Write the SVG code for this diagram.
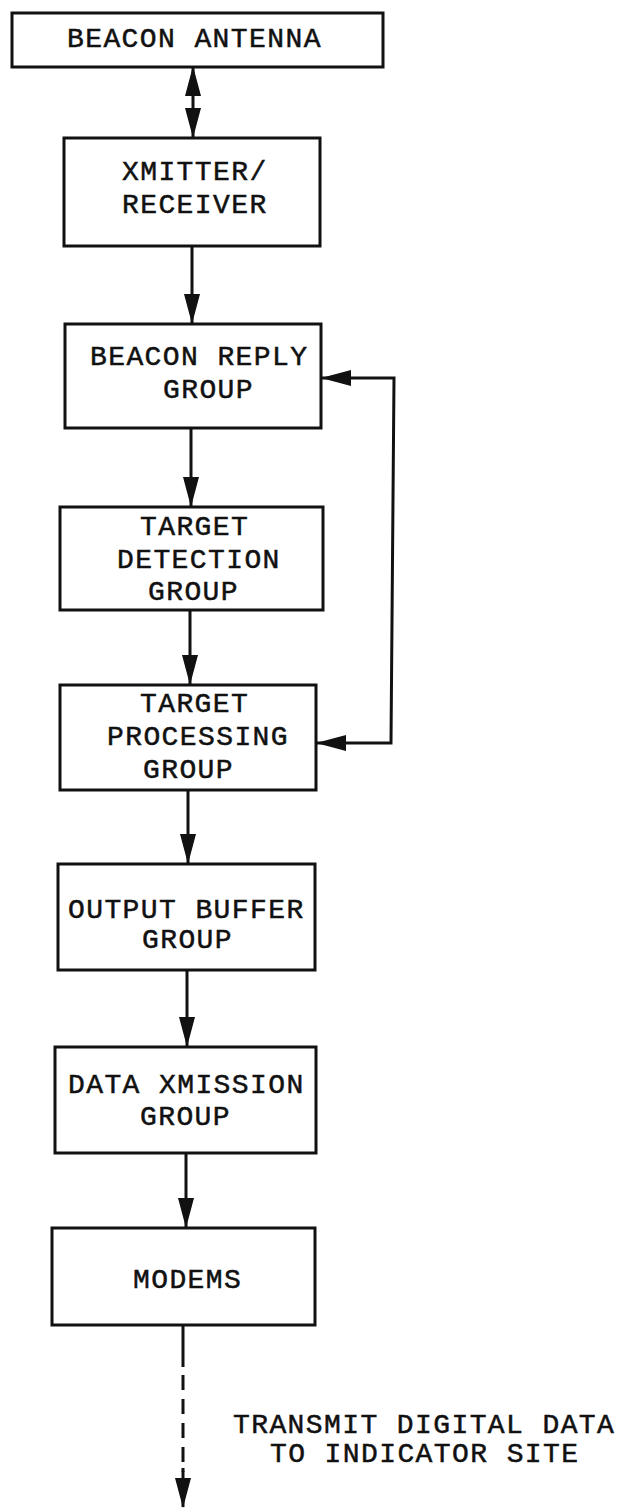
<svg xmlns="http://www.w3.org/2000/svg" width="623" height="1509" viewBox="0 0 623 1509">
<style>
.box{fill:#fff;stroke:#111;stroke-width:3}
.t{font-family:"Liberation Mono","DejaVu Sans Mono",monospace;font-size:28px;letter-spacing:1.4px;fill:#111;stroke:#111;stroke-width:0.5}
.c{fill:none;stroke:#111;stroke-width:3}
.d{fill:none;stroke:#111;stroke-width:3;stroke-dasharray:15 9}
</style>
<defs>
<marker id="ah" viewBox="0 0 30 16" refX="29" refY="8" markerWidth="30" markerHeight="16" markerUnits="userSpaceOnUse" orient="auto-start-reverse">
<path d="M0,0 L30,8 L0,16 z" fill="#111"/>
</marker>
</defs>
<rect width="623" height="1509" fill="#fff"/>
<g id="connectors">
<line class="c" x1="193" y1="67" x2="193" y2="137" marker-start="url(#ah)" marker-end="url(#ah)"/>
<line class="c" x1="192" y1="246" x2="192" y2="323" marker-end="url(#ah)"/>
<line class="c" x1="191" y1="428" x2="191" y2="506" marker-end="url(#ah)"/>
<line class="c" x1="190" y1="610" x2="190" y2="684" marker-end="url(#ah)"/>
<line class="c" x1="188" y1="790" x2="188" y2="863" marker-end="url(#ah)"/>
<line class="c" x1="187" y1="970" x2="187" y2="1046" marker-end="url(#ah)"/>
<line class="c" x1="186" y1="1153" x2="186" y2="1227" marker-end="url(#ah)"/>
<polyline class="c" points="322,378 394,378 391,743 317,743" marker-start="url(#ah)" marker-end="url(#ah)"/>
<line class="c" x1="183" y1="1325" x2="183" y2="1367"/>
<line class="d" x1="183" y1="1375" x2="183" y2="1472"/>
<line class="c" x1="183" y1="1468" x2="183" y2="1507" marker-end="url(#ah)"/>
</g>
<g id="beacon-antenna">
<rect class="box" x="12" y="13" width="371" height="54"/>
<text class="t" x="67" y="47">BEACON ANTENNA</text>
</g>
<g id="xmitter-receiver">
<rect class="box" x="64" y="138" width="256" height="108"/>
<text class="t" x="122" y="180">XMITTER/</text>
<text class="t" x="122" y="213">RECEIVER</text>
</g>
<g id="beacon-reply-group">
<rect class="box" x="65" y="324" width="256" height="104"/>
<text class="t" x="90" y="365">BEACON REPLY</text>
<text class="t" x="163" y="398">GROUP</text>
</g>
<g id="target-detection-group">
<rect class="box" x="60" y="507" width="263" height="103"/>
<text class="t" x="140" y="535">TARGET</text>
<text class="t" x="117" y="568">DETECTION</text>
<text class="t" x="148" y="600">GROUP</text>
</g>
<g id="target-processing-group">
<rect class="box" x="60" y="685" width="256" height="105"/>
<text class="t" x="140" y="712">TARGET</text>
<text class="t" x="107" y="745">PROCESSING</text>
<text class="t" x="143" y="778">GROUP</text>
</g>
<g id="output-buffer-group">
<rect class="box" x="58" y="864" width="257" height="106"/>
<text class="t" x="68" y="918">OUTPUT BUFFER</text>
<text class="t" x="142" y="948">GROUP</text>
</g>
<g id="data-xmission-group">
<rect class="box" x="55" y="1047" width="261" height="106"/>
<text class="t" x="68" y="1093">DATA XMISSION</text>
<text class="t" x="140" y="1125">GROUP</text>
</g>
<g id="modems">
<rect class="box" x="52" y="1228" width="263" height="97"/>
<text class="t" x="133" y="1288">MODEMS</text>
</g>
<g id="label">
<text class="t" x="233" y="1433">TRANSMIT DIGITAL DATA</text>
<text class="t" x="270" y="1462">TO INDICATOR SITE</text>
</g>
</svg>
